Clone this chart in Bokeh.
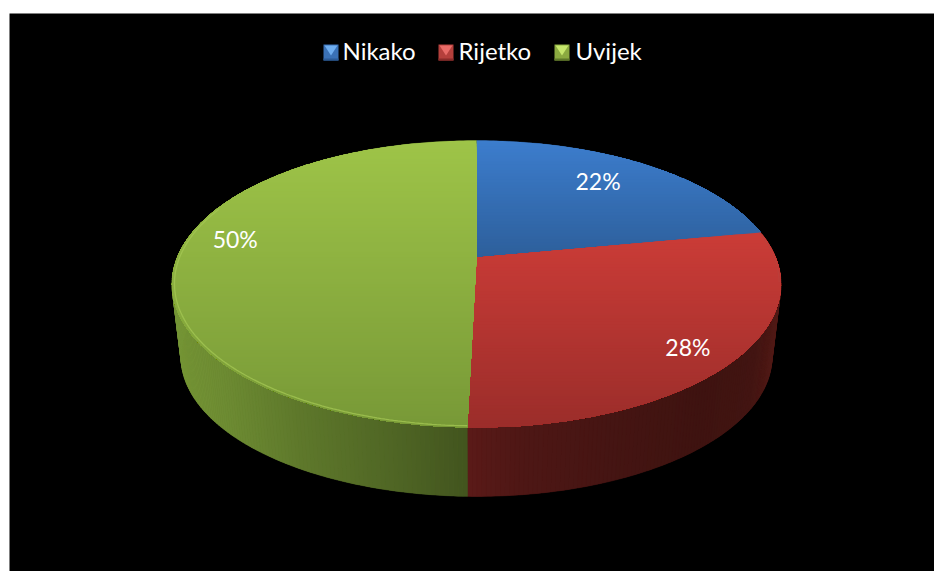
import math
import numpy as np
from bokeh.plotting import figure
from bokeh.models import Range1d
from bokeh.core.properties import value
from bokeh.embed import file_html
from bokeh.resources import INLINE

# ---- data
categories = ["Nikako", "Rijetko", "Uvijek"]
shares = [22.0, 28.4, 49.6]
percent_labels = ["22%", "28%", "50%"]

# ---- style
label_radius = [0.753, 0.861, 0.833]
label_shift = [-2.6, 2.5, 8.0]   # degrees
legend_key_x = [323, 438, 554]
legend_text_x = [343, 459, 576]
legend_y = 52
key_top = ["#6FAEF0", "#E96C68", "#C6E76C"]
key_mid = ["#3A71B6", "#B5403C", "#8BAA40"]
key_bot = ["#2B5A96", "#8A2B29", "#5E7829"]
face_stops = [
    ((140, (60, 125, 205)), (257, (45, 95, 155))),
    ((232, (203, 60, 55)), (427, (155, 45, 42))),
    ((140, (158, 196, 72)), (427, (120, 153, 55))),
]
side_stops = [
    ([476, 780], [(30, 60, 100), (30, 60, 100)], ),
    ([468, 520, 600, 700, 750, 782],
     [(90, 26, 24), (78, 23, 21), (70, 21, 19), (62, 19, 16), (66, 21, 18), (86, 28, 24)]),
    ([172, 230, 300, 400, 468],
     [(118, 150, 54), (108, 138, 50), (94, 120, 43), (78, 100, 36), (66, 84, 30)]),
]
FONT = "Lato"

# ---- projection of the disc (perspective seen from above)
CX, CY = 476.0, 257.0
A, B, K = 299.3, 138.6, 0.1847
DEPTH_S, DEPTH_CY = 0.97, 331.0


def proj(theta_deg, r=1.0, lower=False):
    t = np.radians(theta_deg)
    u, v = r * np.sin(t), r * np.cos(t)
    w = 1 + K * v
    s = DEPTH_S if lower else 1.0
    cy = DEPTH_CY if lower else CY
    return CX + s * A * u / w, cy - s * B * v / w


def hexc(c):
    return "#%02x%02x%02x" % tuple(int(round(x)) for x in c)


def lerp_stops(y, stops):
    (y0, c0), (y1, c1) = stops
    f = (y - y0) / (y1 - y0)
    return [a + (b - a) * f for a, b in zip(c0, c1)]


def clip(poly, yy):
    out = []
    n = len(poly)
    for i in range(n):
        p, q = poly[i], poly[(i + 1) % n]
        ip, iq = p[1] >= yy, q[1] >= yy
        if ip:
            out.append(p)
        if ip != iq:
            f = (yy - p[1]) / (q[1] - p[1])
            out.append((p[0] + (q[0] - p[0]) * f, yy))
    return out


total = sum(shares)
edges = [0.0]
for s_ in shares:
    edges.append(edges[-1] + 360.0 * s_ / total)

p = figure(width=934, height=571, output_backend="svg", toolbar_location=None,
           x_range=Range1d(0, 934), y_range=Range1d(571, 0),
           min_border=0, background_fill_color="white", border_fill_color="white")
p.axis.visible = False
p.grid.visible = False
p.outline_line_color = None

p.quad(left=[9], right=[934], top=[13], bottom=[571], fill_color="black", line_color=None)

# side wall: a base under the strips, then strips
sx, sy, sc = [], [], []
for i in range(3):
    a0, a1 = edges[i], edges[i + 1]
    n = max(2, int((a1 - a0) / 0.75))
    th = np.linspace(a0, a1, n + 1)
    xs_, cs_ = side_stops[i][0], side_stops[i][1]
    tx, ty = proj(th)
    bx, by = proj(th, lower=True)
    base = [float(np.mean([c[k] for c in cs_])) for k in range(3)]
    p.patch(np.r_[tx, bx[::-1]], np.r_[ty, by[::-1]], fill_color=hexc(base), line_color=None)
    for t0, t1 in zip(th[:-1], th[1:]):
        x0, y0 = proj(t0)
        x1, y1 = proj(t1)
        x2, y2 = proj(t1, lower=True)
        x3, y3 = proj(t0, lower=True)
        xm = (x0 + x1 + x2 + x3) / 4
        col = [np.interp(xm, xs_, [c[k] for c in cs_]) for k in range(3)]
        sx.append([x0, x1, x2, x3])
        sy.append([y0, y1, y2, y3])
        sc.append(hexc(col))
p.patches(sx, sy, fill_color=sc, line_color=sc, line_width=0.5)

# top face: painted downwards in bands for the vertical gradient
fx, fy, fc = [], [], []
for i in range(3):
    a0, a1 = edges[i], edges[i + 1]
    th = np.linspace(a0, a1, int(a1 - a0) + 2)
    px_, py_ = proj(th)
    poly = [(CX, CY)] + list(zip(px_.tolist(), py_.tolist()))
    ymin, ymax = min(q[1] for q in poly), max(q[1] for q in poly)
    yy = math.floor(ymin)
    first = True
    while yy < ymax:
        part = poly if first else clip(poly, yy)
        first = False
        if len(part) >= 3:
            fx.append([q[0] for q in part])
            fy.append([q[1] for q in part])
            fc.append(hexc(lerp_stops(yy + 1.5, face_stops[i])))
        yy += 3
p.patches(fx, fy, fill_color=fc, line_color=None)

# rim highlights
th = np.linspace(edges[2], 292, 160)
rx, ry = proj(th, r=0.992)
p.line(rx, ry, line_color="#a2c652", line_width=1.3, line_alpha=0.8)
th = np.linspace(edges[1], 100, 100)
rx, ry = proj(th, r=0.994)
p.line(rx, ry, line_color="#b8433e", line_width=1.2, line_alpha=0.6)

# percent labels
for i in range(3):
    mid = (edges[i] + edges[i + 1]) / 2 + label_shift[i]
    lx, ly = proj(mid, r=label_radius[i])
    p.text([float(lx) - 0.5], [float(ly) - 1.0], text=[percent_labels[i]], text_color="white",
           text_font=value(FONT), text_font_size=value("23px"),
           text_align="center", text_baseline="middle")

# legend
for i, name in enumerate(categories):
    x0 = legend_key_x[i]
    x1, y0, y1 = x0 + 15, legend_y - 8, legend_y + 8
    xc = x0 + 7.5
    p.quad(left=[x0], right=[x1], top=[y0], bottom=[y1], fill_color=key_mid[i], line_color=None)
    p.patch([x0 + 1, x1 - 1, xc], [y0 + 1, y0 + 1, legend_y + 3], fill_color=key_top[i], line_color=None)
    p.quad(left=[x0], right=[x1], top=[y1 - 2], bottom=[y1], fill_color=key_bot[i], line_color=None)
    p.text([legend_text_x[i] - 1], [legend_y - 2], text=[name], text_color="white",
           text_font=value(FONT), text_font_size=value("24px"),
           text_align="left", text_baseline="middle")

open("out.html", "w").write(file_html(p, INLINE))
